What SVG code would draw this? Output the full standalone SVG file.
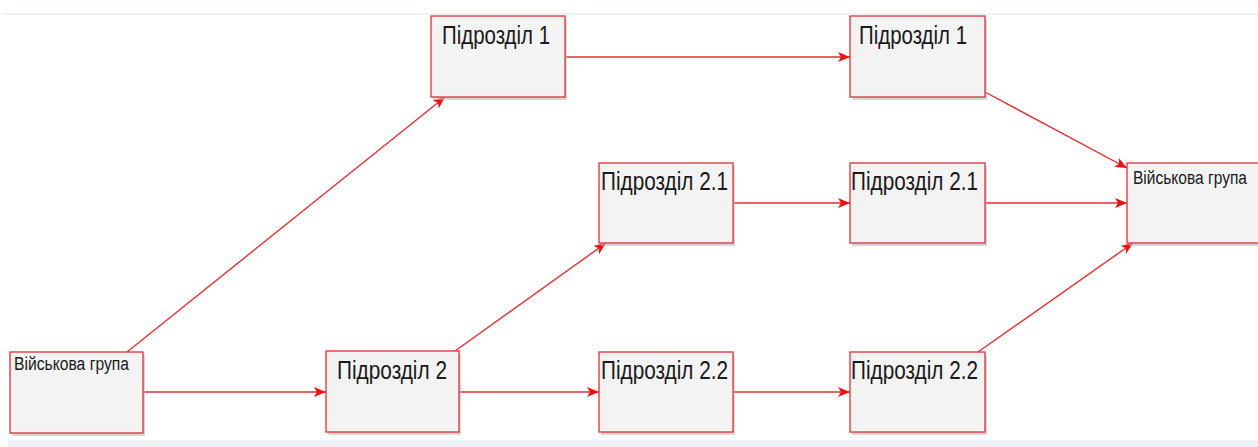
<svg xmlns="http://www.w3.org/2000/svg" width="1258" height="447" viewBox="0 0 1258 447">
<style>
.box{fill:#f3f3f3;stroke:#d8323a;stroke-width:1.3}
.sh{fill:#bdbdbd;opacity:0.6}
.big{font-family:"Liberation Sans",Arial,sans-serif;font-size:26px;fill:#1a1a1a}
.small{font-family:"Liberation Sans",Arial,sans-serif;font-size:18px;fill:#1a1a1a}
.c{stroke:#e03030;stroke-width:1.4;fill:none;marker-end:url(#ah)}
</style>
<defs>
<marker id="ah" viewBox="0 0 12 10" refX="12" refY="5" markerWidth="12" markerHeight="10" markerUnits="userSpaceOnUse" orient="auto">
<path d="M0,0 L12,5 L0,10 L3,5 Z" fill="#ee1111"/>
</marker>
</defs>
<rect x="0" y="0" width="1258" height="447" fill="#ffffff"/>
<rect x="3" y="13" width="1255" height="2" fill="#eef1f6"/>
<rect x="8" y="440" width="1250" height="7" fill="#eef2f7"/>
<g id="connectors">
<line class="c" x1="127" y1="352" x2="445" y2="97"/>
<line class="c" x1="143" y1="392" x2="326" y2="392"/>
<line class="c" x1="565" y1="57" x2="850" y2="57"/>
<line class="c" x1="455" y1="351" x2="606" y2="243"/>
<line class="c" x1="458" y1="392" x2="599" y2="392"/>
<line class="c" x1="733" y1="203" x2="850" y2="203"/>
<line class="c" x1="733" y1="392" x2="850" y2="392"/>
<line class="c" x1="985" y1="92" x2="1127" y2="168"/>
<line class="c" x1="985" y1="203" x2="1127" y2="203"/>
<line class="c" x1="978" y1="352" x2="1133" y2="243"/>
</g>
<g id="vg-left">
<rect class="sh" x="12" y="355" width="133" height="81"/>
<rect class="box" x="10" y="352" width="133" height="81"/>
<text class="small" x="14" y="370" textLength="115" lengthAdjust="spacingAndGlyphs">Військова група</text>
</g>
<g id="p2">
<rect class="sh" x="328" y="354" width="133" height="81"/>
<rect class="box" x="326" y="351" width="133" height="81"/>
<text class="big" x="337" y="379" textLength="110" lengthAdjust="spacingAndGlyphs">Підрозділ 2</text>
</g>
<g id="p1a">
<rect class="sh" x="433" y="19" width="134" height="81"/>
<rect class="box" x="431" y="16" width="134" height="81"/>
<text class="big" x="442" y="44" textLength="108" lengthAdjust="spacingAndGlyphs">Підрозділ 1</text>
</g>
<g id="p1b">
<rect class="sh" x="852" y="19" width="135" height="81"/>
<rect class="box" x="850" y="16" width="135" height="81"/>
<text class="big" x="859" y="44" textLength="108" lengthAdjust="spacingAndGlyphs">Підрозділ 1</text>
</g>
<g id="p21a">
<rect class="sh" x="601" y="166" width="134" height="80"/>
<rect class="box" x="599" y="163" width="134" height="80"/>
<text class="big" x="601" y="190" textLength="127" lengthAdjust="spacingAndGlyphs">Підрозділ 2.1</text>
</g>
<g id="p21b">
<rect class="sh" x="852" y="166" width="135" height="80"/>
<rect class="box" x="850" y="163" width="135" height="80"/>
<text class="big" x="851" y="190" textLength="127" lengthAdjust="spacingAndGlyphs">Підрозділ 2.1</text>
</g>
<g id="p22a">
<rect class="sh" x="601" y="355" width="134" height="80"/>
<rect class="box" x="599" y="352" width="134" height="80"/>
<text class="big" x="601" y="379" textLength="127" lengthAdjust="spacingAndGlyphs">Підрозділ 2.2</text>
</g>
<g id="p22b">
<rect class="sh" x="852" y="355" width="135" height="80"/>
<rect class="box" x="850" y="352" width="135" height="80"/>
<text class="big" x="851" y="379" textLength="127" lengthAdjust="spacingAndGlyphs">Підрозділ 2.2</text>
</g>
<g id="vg-right">
<rect class="sh" x="1129" y="166" width="135" height="80"/>
<rect class="box" x="1127" y="163" width="135" height="80"/>
<text class="small" x="1133" y="184" textLength="114" lengthAdjust="spacingAndGlyphs">Військова група</text>
</g>
</svg>
